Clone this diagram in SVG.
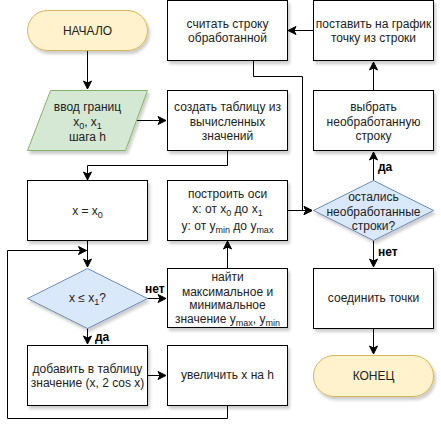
<svg xmlns="http://www.w3.org/2000/svg" width="441" height="435" viewBox="0 0 441 435">
<defs>
<filter id="sh" x="-10%" y="-10%" width="130%" height="140%">
<feDropShadow dx="2" dy="3" stdDeviation="1.5" flood-color="#000" flood-opacity="0.2"/>
</filter>
<marker id="arr" markerUnits="userSpaceOnUse" markerWidth="10" markerHeight="10" viewBox="0 0 10 10" refX="9" refY="5" orient="auto">
<path d="M1,1 L9,5 L1,9 L3,5 Z" fill="#000" stroke="#000" stroke-width="1"/>
</marker>
</defs>
<style>
.box{fill:#fff;stroke:#000;stroke-width:1;filter:url(#sh)}
.term{fill:#fff2cc;stroke:#d6b656;stroke-width:1;filter:url(#sh)}
.io{fill:#d5e8d4;stroke:#82b366;stroke-width:1;filter:url(#sh)}
.dec{fill:#dae8fc;stroke:#6c8ebf;stroke-width:1;filter:url(#sh)}
text{font-family:"Liberation Sans",Arial,sans-serif;font-size:12px;fill:#222;text-anchor:middle}
.lbl{font-weight:bold;fill:#000;text-anchor:start}
.sub{font-size:9px}
.edge{fill:none;stroke:#000;stroke-width:1}
.ea{marker-end:url(#arr)}
</style>
<rect width="441" height="435" fill="#fff"/>

<g id="connectors">
<path class="edge ea" d="M87.5,50 V89"/>
<path class="edge ea" d="M136,120.5 H166"/>
<path class="edge ea" d="M227.5,151 V165.5 H87.5 V180"/>
<path class="edge ea" d="M87.5,241 V267"/>
<path class="edge ea" d="M227.5,406 V418.5 H7.5 V250.5 H86.5"/>
<path class="edge ea" d="M147,298.5 H166"/>
<path class="edge ea" d="M87.5,328 V344"/>
<path class="edge ea" d="M148,375.5 H166"/>
<path class="edge ea" d="M227.5,268 V241"/>
<path class="edge ea" d="M288,210.5 H312"/>
<path class="edge ea" d="M253.5,61 V76.5 H302.5 V210.5 H312"/>
<path class="edge ea" d="M373.5,181 V152"/>
<path class="edge ea" d="M373.5,90 V62"/>
<path class="edge ea" d="M313,30.5 H288"/>
<path class="edge ea" d="M373.5,240 V267"/>
<path class="edge ea" d="M373.5,329 V354"/>
<text class="lbl" x="145" y="293">нет</text>
<text class="lbl" x="95" y="341">да</text>
<text class="lbl" x="378" y="171">да</text>
<text class="lbl" x="378" y="256">нет</text>
</g>

<g id="start">
<rect class="term" x="27.5" y="10.5" width="120" height="40" rx="20" ry="20"/>
<text x="87.5" y="35">НАЧАЛО</text>
</g>

<g id="input">
<polygon class="io" points="50.5,90.5 147.5,90.5 125.5,150.5 27.5,150.5"/>
<text x="87.5" y="111">ввод границ</text>
<text x="87.5" y="126">x<tspan class="sub" dy="3">0</tspan><tspan dy="-3">, x</tspan><tspan class="sub" dy="3">1</tspan></text>
<text x="87.5" y="141">шага h</text>
</g>

<g id="create-table">
<rect class="box" x="167.5" y="90.5" width="120" height="60"/>
<text x="227.5" y="111">создать таблицу из</text>
<text x="227.5" y="126">вычисленных</text>
<text x="227.5" y="140">значений</text>
</g>

<g id="read-row">
<rect class="box" x="167.5" y="0.5" width="120" height="60"/>
<text x="227.5" y="28">считать строку</text>
<text x="227.5" y="42">обработанной</text>
</g>

<g id="put-point">
<rect class="box" x="313.5" y="0.5" width="120" height="60"/>
<text x="373.5" y="28">поставить на график</text>
<text x="373.5" y="42">точку из строки</text>
</g>

<g id="select-row">
<rect class="box" x="313.5" y="90.5" width="120" height="60"/>
<text x="373.5" y="111">выбрать</text>
<text x="373.5" y="126">необработанную</text>
<text x="373.5" y="140">строку</text>
</g>

<g id="x-init">
<rect class="box" x="27.5" y="180.5" width="120" height="60"/>
<text x="87.5" y="215">x = x<tspan class="sub" dy="3">0</tspan></text>
</g>

<g id="axes">
<rect class="box" x="167.5" y="180.5" width="120" height="60"/>
<text x="227.5" y="198">построить оси</text>
<text x="227.5" y="213">x: от x<tspan class="sub" dy="3">0</tspan><tspan dy="-3"> до x</tspan><tspan class="sub" dy="3">1</tspan></text>
<text x="227.5" y="230">y: от y<tspan class="sub" dy="3">min</tspan><tspan dy="-3"> до y</tspan><tspan class="sub" dy="3">max</tspan></text>
</g>

<g id="rows-left">
<polygon class="dec" points="373.5,180.5 433.5,210.5 373.5,240.5 313.5,210.5"/>
<text x="373.5" y="201">остались</text>
<text x="373.5" y="216">необработанные</text>
<text x="373.5" y="230">строки?</text>
</g>

<g id="cond">
<polygon class="dec" points="87.5,268.5 147.5,298.5 87.5,328.5 27.5,298.5"/>
<text x="87.5" y="302">x ≤ x<tspan class="sub" dy="3">1</tspan><tspan dy="-3">?</tspan></text>
</g>

<g id="find-minmax">
<rect class="box" x="167.5" y="268.5" width="120" height="59"/>
<text x="227.5" y="281">найти</text>
<text x="227.5" y="296">максимальное и</text>
<text x="227.5" y="309">минимальное</text>
<text x="227.5" y="323">значение y<tspan class="sub" dy="3">max</tspan><tspan dy="-3">, y</tspan><tspan class="sub" dy="3">min</tspan></text>
</g>

<g id="join-points">
<rect class="box" x="313.5" y="268.5" width="120" height="60"/>
<text x="373.5" y="302">соединить точки</text>
</g>

<g id="add-row">
<rect class="box" x="27.5" y="345.5" width="120" height="60"/>
<text x="87.5" y="373">добавить в таблицу</text>
<text x="87.5" y="387">значение (x, 2 cos x)</text>
</g>

<g id="increment">
<rect class="box" x="167.5" y="345.5" width="120" height="60"/>
<text x="227.5" y="379">увеличить x на h</text>
</g>

<g id="end">
<rect class="term" x="313.5" y="355.5" width="120" height="41" rx="20.5" ry="20.5"/>
<text x="373.5" y="380">КОНЕЦ</text>
</g>
</svg>
